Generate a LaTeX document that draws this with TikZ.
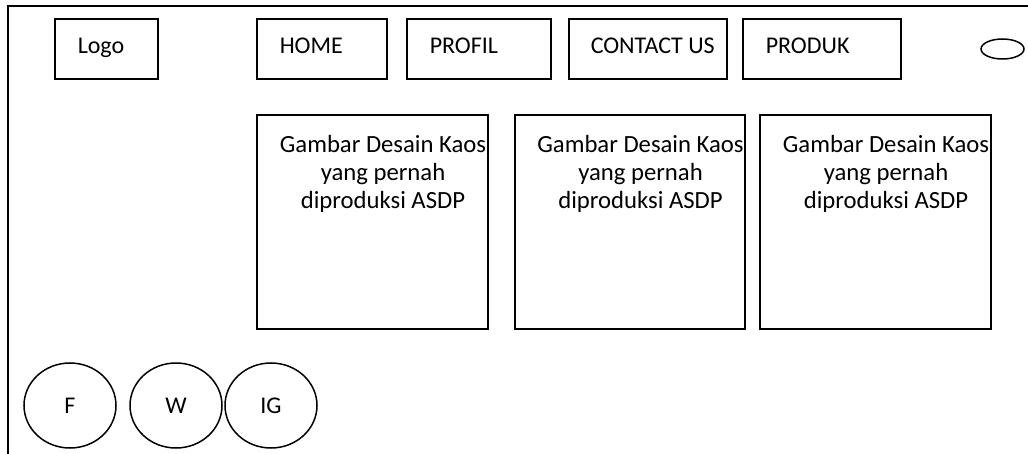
\documentclass[tikz,border=0pt]{standalone}
\usepackage{fontspec}
\setmainfont{Carlito}
\usetikzlibrary{shapes.geometric}
\begin{document}
\begin{tikzpicture}[x=1pt,y=-1pt,line width=1.5pt,
  font=\fontsize{24}{28}\selectfont,
  frame/.style={draw,rectangle,inner sep=0pt},
  navtext/.style={anchor=base west,inner sep=0pt},
  pictext/.style={align=center,inner sep=0pt,font=\fontsize{24.7}{28}\selectfont},
  social/.style={draw,ellipse,minimum width=92pt,minimum height=85pt,inner sep=0pt}]
\useasboundingbox (0,0) rectangle (1028,454);
% page frame
\draw (8,454) -- (8,6) -- (1028,6);
% header boxes
\node[frame,minimum width=103pt,minimum height=60pt] (logo) at (106.5,49) {};
\node[frame,minimum width=130pt,minimum height=60pt] (home) at (322,49) {};
\node[frame,minimum width=144pt,minimum height=60pt] (profil) at (479,49) {};
\node[frame,minimum width=158pt,minimum height=60pt] (contact) at (648,49) {};
\node[frame,minimum width=158pt,minimum height=60pt] (produk) at (822,49) {};
\node[navtext] (tlogo) at (77,54) {Logo};
\node[navtext] (thome) at (279,54) {HOME};
\node[navtext] (tprofil) at (429,54) {PROFIL};
\node[navtext] (tcontact) at (590,54) {CONTACT US};
\node[navtext] (tproduk) at (765,54) {PRODUK};
\node[draw,ellipse,minimum width=43pt,minimum height=20pt,inner sep=0pt] (search) at (1002.5,49) {};
% picture boxes
\node[frame,minimum width=231pt,minimum height=214pt] (pic1) at (372.5,222) {};
\node[frame,minimum width=230pt,minimum height=214pt] (pic2) at (630,222) {};
\node[frame,minimum width=231pt,minimum height=214pt] (pic3) at (875.5,222) {};
\node[pictext] (tpic1) at (383,174) {Gambar Desain Kaos\\yang pernah\\diproduksi ASDP};
\node[pictext] (tpic2) at (640.5,174) {Gambar Desain Kaos\\yang pernah\\diproduksi ASDP};
\node[pictext] (tpic3) at (886,174) {Gambar Desain Kaos\\yang pernah\\diproduksi ASDP};
% social circles
\node[social] (fb) at (70,405.5) {F};
\node[social] (wa) at (176,405.5) {W};
\node[social] (ig) at (271,405.5) {IG};
\end{tikzpicture}
\end{document}
